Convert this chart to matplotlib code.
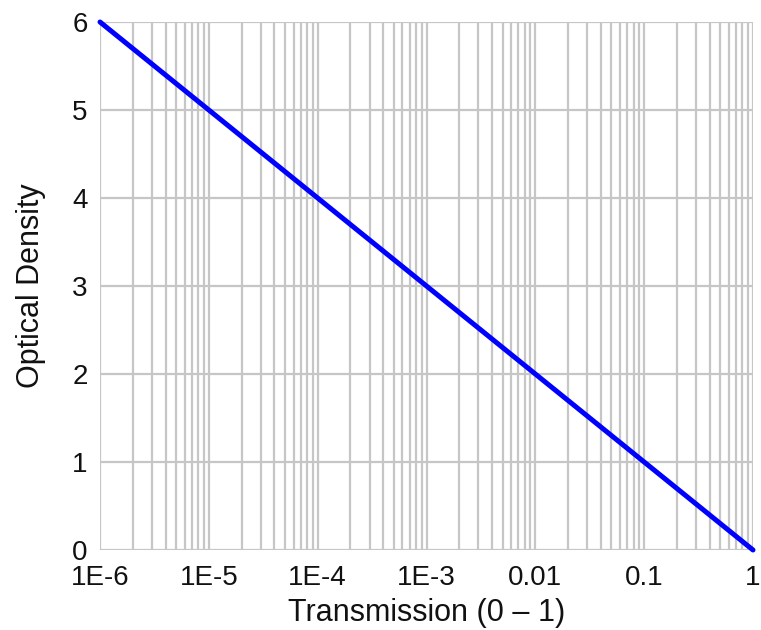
import matplotlib
matplotlib.use("Agg")
import matplotlib.pyplot as plt
from matplotlib.ticker import LogLocator, FixedLocator, NullFormatter

transmission = [1e-6, 1e-5, 1e-4, 1e-3, 1e-2, 1e-1, 1.0]
optical_density = [6, 5, 4, 3, 2, 1, 0]
x_tick_values = [1e-6, 1e-5, 1e-4, 1e-3, 1e-2, 1e-1, 1.0]
x_tick_labels = ["1E-6", "1E-5", "1E-4", "1E-3", "0.01", "0.1", "1"]
y_ticks = [0, 1, 2, 3, 4, 5, 6]

plt.rcParams['font.family'] = ['Liberation Sans', 'DejaVu Sans']

fig = plt.figure(figsize=(7.61, 6.30), dpi=100)
ax = fig.add_axes([100/761, 1-550/630, (753-100)/761, (550-22)/630])

ax.set_xscale('log')
ax.set_xlim(1e-6, 1)
ax.set_ylim(0, 6)

ax.xaxis.set_major_locator(FixedLocator(x_tick_values))
ax.set_xticks(x_tick_values)
ax.set_xticklabels(x_tick_labels)
ax.xaxis.set_minor_locator(LogLocator(base=10, subs=range(2, 10)))
ax.xaxis.set_minor_formatter(NullFormatter())
ax.set_yticks(y_ticks)

ax.grid(True, which='major', color='#c6c6c6', linewidth=1.6)
ax.grid(True, which='minor', axis='x', color='#c6c6c6', linewidth=1.6)
ax.set_axisbelow(True)
for s in ax.spines.values():
    s.set_visible(False)

ax.tick_params(which='both', length=0, labelsize=20, colors='#111111')
ax.tick_params(axis='x', pad=11)
ax.tick_params(axis='y', pad=9)

ax.plot(transmission, optical_density, color='#0000ff', linewidth=3.6, clip_on=False,
        solid_capstyle='round')

ax.set_xlabel("Transmission (0 – 1)", fontsize=22, color='#111111', labelpad=5)
ax.set_ylabel("Optical Density", fontsize=22, color='#111111', labelpad=19)

fig.savefig("out.png", dpi=100)
